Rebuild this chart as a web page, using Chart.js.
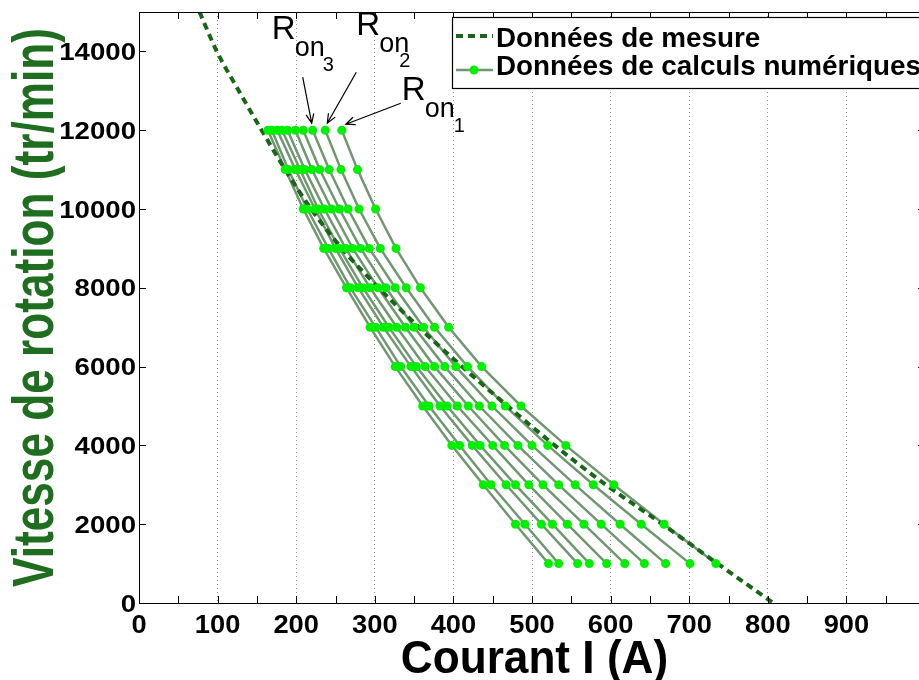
<!DOCTYPE html>
<html>
<head>
<meta charset="utf-8">
<script src="https://cdn.jsdelivr.net/npm/chart.js"></script>
<style>
  html, body { margin: 0; padding: 0; background: #fff; overflow: hidden; }
  #wrap { width: 919px; height: 680px; overflow: hidden; }
</style>
</head>
<body>
<div id="wrap"><canvas id="chart" width="940" height="680"></canvas></div>
<script>
// Vitesses des points de calcul (tr/min)
const vitesses = [12000, 11000, 10000, 9000, 8000, 7000, 6000, 5000, 4000, 3000, 2000, 1000];

// Courant calculé (A) pour chaque Ron, de Ron1 (à droite) vers le plus petit
const ron1  = [258, 278, 301, 327, 358, 394, 436, 486, 543, 604, 668, 734];
const ron2  = [237, 257, 280, 307, 340, 376, 418, 466, 520, 578, 639, 701];
const ron3  = [221, 242, 266, 293, 326, 362, 403, 449, 500, 555, 612, 670];
const ron4  = [209, 230, 255, 282, 314, 350, 389, 433, 482, 534, 588, 643];
const ron5  = [199, 220, 245, 272, 304, 339, 376, 419, 465, 514, 566, 618];
const ron6  = [189, 211, 236, 263, 294, 328, 364, 405, 450, 496, 545, 595];
const ron7  = [182, 205, 228, 255, 285, 318, 353, 392, 434, 479, 526, 573];
const ron8  = [176, 199, 224, 250, 279, 311, 346, 383, 424, 467, 512, 558];
const ron9  = [169, 190, 214, 241, 269, 301, 333, 369, 408, 448, 491, 534];
const ron10 = [164, 186, 209, 235, 264, 294, 326, 361, 398, 438, 479, 521];

// Données de mesure
const mesureVitesse = [15000, 14000, 13000, 12000, 11000, 10000, 9000, 8000, 7000, 6000, 5000, 4000, 3000, 2000, 1000, 0];
const mesureCourant = [77, 99, 127, 156, 186, 219, 258, 305, 356, 411, 469, 529, 594, 666, 736, 807];

// Graduations (1000 tombe hors de la fenêtre, pas d'étiquette)
const xTicks = [0, 100, 200, 300, 400, 500, 600, 700, 800, 900, 1000];
const xTickLabels = ['0', '100', '200', '300', '400', '500', '600', '700', '800', '900', ''];
const yTicks = [0, 2000, 4000, 6000, 8000, 10000, 12000, 14000];

const ronSeries = [ron1, ron2, ron3, ron4, ron5, ron6, ron7, ron8, ron9, ron10];

const lineColor = '#709870';
const dotColor = '#00f000';
const mesureColor = '#196619';
const titleColor = '#1f6e1f';
const FONT = '"Liberation Sans", Arial, sans-serif';

const datasets = [];
ronSeries.forEach(c => {
  datasets.push({
    data: c.map((x, i) => ({ x: x, y: vitesses[i] })),
    showLine: true,
    borderColor: lineColor,
    borderWidth: 2.5,
    pointRadius: 0,
    order: 3
  });
});
datasets.push({
  label: 'Données de mesure',
  data: mesureCourant.map((x, i) => ({ x: x, y: mesureVitesse[i] })),
  showLine: true,
  borderColor: mesureColor,
  borderWidth: 4,
  borderDash: [7, 5],
  pointRadius: 0,
  cubicInterpolationMode: 'monotone',
  order: 2
});
datasets.push({
  label: 'Données de calculs numériques',
  data: ronSeries.flatMap(c => c.map((x, i) => ({ x: x, y: vitesses[i] }))),
  showLine: false,
  pointRadius: 4.5,
  pointBackgroundColor: dotColor,
  pointBorderWidth: 0,
  order: 1
});

// flèches + textes Ron, positionnés par rapport au point à 12000 tr/min
const annotations = [
  { serie: ron1, sub: '1', tip: [4, -6], tail: [59, -27], label: [60, -30], subDx: 52 },
  { serie: ron2, sub: '2', tip: [2, -7], tail: [31, -58], label: [31, -95], subDx: 43 },
  { serie: ron3, sub: '3', tip: [-1, -7], tail: [-10, -53], label: [-41, -91], subDx: 51 }
];

function texte(ctx, str, x, y, font, sx, align, color) {
  ctx.save();
  ctx.font = font;
  ctx.fillStyle = color || '#000';
  ctx.textAlign = align || 'left';
  ctx.textBaseline = 'alphabetic';
  ctx.translate(x, y);
  ctx.scale(sx, 1);
  ctx.fillText(str, 0, 0);
  ctx.restore();
}

function fleche(ctx, x1, y1, x2, y2) {
  const a = Math.atan2(y2 - y1, x2 - x1);
  const L = 10, w = 0.4;
  ctx.save();
  ctx.strokeStyle = '#000';
  ctx.lineWidth = 1.2;
  ctx.beginPath();
  ctx.moveTo(x1, y1);
  ctx.lineTo(x2, y2);
  ctx.moveTo(x2 - L * Math.cos(a - w), y2 - L * Math.sin(a - w));
  ctx.lineTo(x2, y2);
  ctx.lineTo(x2 - L * Math.cos(a + w), y2 - L * Math.sin(a + w));
  ctx.stroke();
  ctx.restore();
}

const habillage = {
  id: 'habillage',
  afterDatasetsDraw(chart) {
    const ctx = chart.ctx;
    const xs = chart.scales.x, ys = chart.scales.y;
    const a = chart.chartArea;

    // cadre haut
    ctx.save();
    ctx.strokeStyle = '#000';
    ctx.lineWidth = 1;
    ctx.beginPath();
    ctx.moveTo(a.left, a.top + 0.5);
    ctx.lineTo(a.right, a.top + 0.5);
    ctx.stroke();

    // graduations vers l'intérieur
    ctx.beginPath();
    xs.ticks.forEach(t => {
      [t.value, t.value + 50].forEach(v => {
        if (v > xs.max) return;
        const px = Math.round(xs.getPixelForValue(v)) + 0.5;
        ctx.moveTo(px, a.bottom); ctx.lineTo(px, a.bottom - 7);
        ctx.moveTo(px, a.top); ctx.lineTo(px, a.top + 7);
      });
    });
    ys.ticks.forEach(t => {
      const py = Math.round(ys.getPixelForValue(t.value)) + 0.5;
      ctx.moveTo(a.left, py); ctx.lineTo(a.left + 7, py);
      ctx.moveTo(a.right, py); ctx.lineTo(a.right - 7, py);
    });
    ctx.stroke();
    ctx.restore();

    // étiquettes des graduations
    xs.ticks.forEach((t, i) => {
      texte(ctx, xTickLabels[i], xs.getPixelForValue(t.value), 633, 'bold 26px ' + FONT, 1.05, 'center');
    });
    ys.ticks.forEach(t => {
      texte(ctx, String(t.value), 136, ys.getPixelForValue(t.value) + 8.6, 'bold 24px ' + FONT, 1.15, 'right');
    });

    // titres des axes
    texte(ctx, 'Courant I (A)', (a.left + 926) / 2 + 2, 673, 'bold 46px ' + FONT, 0.96, 'center');
    ctx.save();
    ctx.translate(53, (a.top + a.bottom) / 2);
    ctx.rotate(-Math.PI / 2);
    texte(ctx, 'Vitesse de rotation (tr/min)', 0, 0, 'bold 57px ' + FONT, 0.775, 'center', titleColor);
    ctx.restore();

    // légende
    const lx = 452, ly = 17, lh = 71;
    ctx.save();
    ctx.fillStyle = '#fff';
    ctx.fillRect(lx, ly, 500, lh);
    ctx.strokeStyle = '#000';
    ctx.lineWidth = 1.2;
    ctx.strokeRect(lx + 0.5, ly + 0.5, 500, lh);
    ctx.strokeStyle = mesureColor;
    ctx.lineWidth = 4;
    ctx.setLineDash([7, 5]);
    ctx.beginPath();
    ctx.moveTo(lx + 4, ly + 19); ctx.lineTo(lx + 41, ly + 19);
    ctx.stroke();
    ctx.setLineDash([]);
    ctx.strokeStyle = lineColor;
    ctx.lineWidth = 2.5;
    ctx.beginPath();
    ctx.moveTo(lx + 4, ly + 53); ctx.lineTo(lx + 41, ly + 53);
    ctx.stroke();
    ctx.fillStyle = dotColor;
    ctx.beginPath();
    ctx.arc(lx + 22, ly + 53, 4.5, 0, Math.PI * 2);
    ctx.fill();
    ctx.restore();
    texte(ctx, datasets[10].label, lx + 44, ly + 30, 'bold 27px ' + FONT, 1.03, 'left');
    texte(ctx, datasets[11].label, lx + 44, ly + 58, 'bold 27px ' + FONT, 1.03, 'left');

    // annotations Ron
    annotations.forEach(an => {
      const px = xs.getPixelForValue(an.serie[0]);
      const py = ys.getPixelForValue(vitesses[0]);
      fleche(ctx, px + an.tail[0], py + an.tail[1], px + an.tip[0], py + an.tip[1]);
      const tx = px + an.label[0], ty = py + an.label[1];
      texte(ctx, 'R', tx, ty, '33px ' + FONT, 1, 'left');
      texte(ctx, 'on', tx + 23, ty + 17, '27px ' + FONT, 1, 'left');
      texte(ctx, an.sub, tx + an.subDx, ty + 32, '20px ' + FONT, 1, 'left');
    });
  }
};

new Chart(document.getElementById('chart'), {
  type: 'scatter',
  data: { datasets: datasets },
  options: {
    responsive: false,
    animation: false,
    events: [],
    layout: { padding: { left: 0, top: 12, right: 15, bottom: 0 } },
    plugins: { legend: { display: false }, tooltip: { enabled: false } },
    scales: {
      x: {
        type: 'linear',
        min: 0,
        max: 1000,
        afterBuildTicks: s => { s.ticks = xTicks.map(v => ({ value: v })); },
        afterFit: s => { s.height = 77; },
        ticks: { display: false },
        grid: { display: true, color: '#909090', lineWidth: 1, drawTicks: false },
        border: { display: true, color: '#000', width: 1, dash: [1, 3] }
      },
      y: {
        type: 'linear',
        min: 0,
        max: 15000,
        afterBuildTicks: s => { s.ticks = yTicks.map(v => ({ value: v })); },
        afterFit: s => { s.width = 139; },
        ticks: { display: false },
        grid: { display: false, drawTicks: false },
        border: { display: true, color: '#000', width: 1 }
      }
    }
  },
  plugins: [habillage]
});
</script>
</body>
</html>
